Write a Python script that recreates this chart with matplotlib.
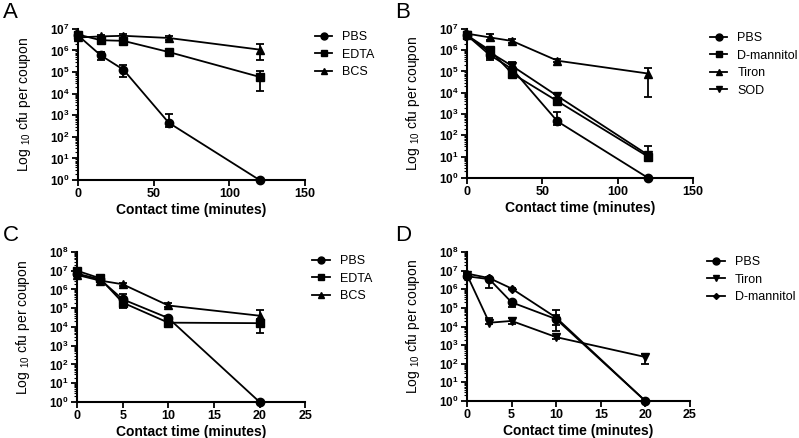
import numpy as np
import matplotlib
matplotlib.use("Agg")
import matplotlib.pyplot as plt
from matplotlib.lines import Line2D
from matplotlib.ticker import LogLocator, FixedLocator, NullFormatter

plt.rcParams['font.family'] = ['Liberation Sans', 'DejaVu Sans']
plt.rcParams['mathtext.fontset'] = 'custom'
plt.rcParams['mathtext.rm'] = 'Liberation Sans'
plt.rcParams['mathtext.it'] = 'Liberation Sans'
plt.rcParams['mathtext.bf'] = 'Liberation Sans:bold'

# Panel A
tA = [0, 15, 30, 60, 120]
A_pbs = [5e6, 6e5, 1.3e5, 450, 1]
A_pbs_lo = [3.5e6, 3.5e5, 6e4, 300, 1]
A_pbs_hi = [7e6, 8.5e5, 2.2e5, 1.2e3, 1]
A_edta = [5.5e6, 3e6, 2.8e6, 8.5e5, 6e4]
A_edta_lo = [4e6, 2.2e6, 2e6, 7e5, 1.4e4]
A_edta_hi = [7e6, 4e6, 3.8e6, 1e6, 1.1e5]
A_bcs = [4e6, 4.5e6, 4.8e6, 3.8e6, 1.1e6]
A_bcs_lo = [3e6, 3.5e6, 3.8e6, 3.2e6, 3.5e5]
A_bcs_hi = [5e6, 5.5e6, 5.8e6, 4.5e6, 1.9e6]

# Panel B
tB = [0, 15, 30, 60, 120]
B_pbs = [5e6, 6e5, 1.3e5, 450, 1]
B_pbs_lo = [3.5e6, 3.5e5, 6e4, 300, 1]
B_pbs_hi = [7e6, 8.5e5, 2.2e5, 1.2e3, 1]
B_mann = [5e6, 1e6, 8e4, 4e3, 10]
B_mann_lo = [4e6, 7e5, 6e4, 3e3, 7]
B_mann_hi = [6e6, 1.3e6, 1.1e5, 5e3, 14]
B_tiron = [6e6, 4e6, 2.7e6, 3.2e5, 8e4]
B_tiron_lo = [5e6, 3e6, 2.2e6, 2.7e5, 6.5e3]
B_tiron_hi = [7e6, 5.5e6, 3.2e6, 3.7e5, 1.5e5]
B_sod = [5e6, 8e5, 1.8e5, 7e3, 12]
B_sod_lo = [4e6, 4.5e5, 1.2e5, 5e3, 8]
B_sod_hi = [6e6, 1.2e6, 2.8e5, 9e3, 30]

# Panel C
tC = [0, 2.5, 5, 10, 20]
C_pbs = [7e6, 3.5e6, 3e5, 3e4, 1]
C_pbs_lo = [5e6, 2.8e6, 1.5e5, 2e4, 1]
C_pbs_hi = [9e6, 4.3e6, 6e5, 4e4, 1]
C_edta = [1e7, 4e6, 2e5, 1.7e4, 1.6e4]
C_edta_lo = [8e6, 3.2e6, 1e5, 1.3e4, 5e3]
C_edta_hi = [1.3e7, 5e6, 4e5, 2.2e4, 2.8e4]
C_bcs = [6e6, 3e6, 1.9e6, 1.4e5, 4e4]
C_bcs_lo = [5e6, 2.5e6, 1.6e6, 1.1e5, 2e4]
C_bcs_hi = [7e6, 3.5e6, 2.2e6, 1.8e5, 8e4]

# Panel D
tD = [0, 2.5, 5, 10, 20]
D_pbs = [5e6, 3.5e6, 2e5, 2.5e4, 1]
D_pbs_lo = [4e6, 1.2e6, 1.1e5, 6e3, 1]
D_pbs_hi = [6e6, 4.5e6, 2.8e5, 4e4, 1]
D_tiron = [6e6, 1.6e4, 2e4, 2.7e3, 2.3e2]
D_tiron_lo = [5e6, 1.3e4, 1.4e4, 2.2e3, 1e2]
D_tiron_hi = [7e6, 3e4, 3e4, 3.2e3, 3.5e2]
D_mann = [7e6, 4e6, 1.1e6, 3e4, 1]
D_mann_lo = [6e6, 3.5e6, 1e6, 1.2e4, 1]
D_mann_hi = [8e6, 4.5e6, 1.2e6, 7.5e4, 1]

panels = [
    dict(letter='A', lpos=(0.004, 0.995), pos=[0.0976, 0.589, 0.284, 0.345], t=tA, xlim=(0, 150),
         xticks=[0, 50, 100, 150], ytop=7,
         series=[('PBS', 'o', A_pbs, A_pbs_lo, A_pbs_hi), ('EDTA', 's', A_edta, A_edta_lo, A_edta_hi),
                 ('BCS', '^', A_bcs, A_bcs_lo, A_bcs_hi)], leg=(0.394, 0.929)),
    dict(letter='B', lpos=(0.494, 0.995), pos=[0.5845, 0.594, 0.283, 0.340], t=tB, xlim=(0, 150),
         xticks=[0, 50, 100, 150], ytop=7,
         series=[('PBS', 'o', B_pbs, B_pbs_lo, B_pbs_hi), ('D-mannitol', 's', B_mann, B_mann_lo, B_mann_hi),
                 ('Tiron', '^', B_tiron, B_tiron_lo, B_tiron_hi), ('SOD', 'v', B_sod, B_sod_lo, B_sod_hi)],
         leg=(0.8886, 0.927)),
    dict(letter='C', lpos=(0.004, 0.486), pos=[0.0964, 0.0822, 0.2856, 0.3425], t=tC, xlim=(0, 25),
         xticks=[0, 5, 10, 15, 20, 25], ytop=8,
         series=[('PBS', 'o', C_pbs, C_pbs_lo, C_pbs_hi), ('EDTA', 's', C_edta, C_edta_lo, C_edta_hi),
                 ('BCS', '^', C_bcs, C_bcs_lo, C_bcs_hi)], leg=(0.3905, 0.418)),
    dict(letter='D', lpos=(0.494, 0.486), pos=[0.5845, 0.0845, 0.279, 0.340], t=tD, xlim=(0, 25),
         xticks=[0, 5, 10, 15, 20, 25], ytop=8,
         series=[('PBS', 'o', D_pbs, D_pbs_lo, D_pbs_hi), ('Tiron', 'v', D_tiron, D_tiron_lo, D_tiron_hi),
                 ('D-mannitol', 'D', D_mann, D_mann_lo, D_mann_hi)], leg=(0.885, 0.4155)),
]

fig = plt.figure(figsize=(7.99, 4.38), dpi=100)

for p in panels:
    ax = fig.add_axes(p['pos'])
    handles = []
    for name, mk, y, lo, hi in p['series']:
        y = np.array(y); lo = np.array(lo); hi = np.array(hi)
        ms = 6 if mk != 'D' else 4
        ax.errorbar(p['t'], y, yerr=[y - lo, hi - y], color='black', marker=mk, ms=ms,
                    lw=1.3, elinewidth=1.3, capsize=3, capthick=1.3, clip_on=False, zorder=3)
        handles.append(Line2D([], [], color='black', marker=mk, ms=ms - 1, lw=1.3, label=name))
    ax.set_yscale('log')
    ax.set_ylim(1, 10 ** p['ytop'])
    ax.set_xlim(*p['xlim'])
    ax.set_xticks(p['xticks'])
    ax.set_xticklabels([str(v) for v in p['xticks']], fontsize=9, fontweight='bold')
    decs = list(range(0, p['ytop'] + 1))
    ax.yaxis.set_major_locator(FixedLocator([10.0 ** d for d in decs]))
    ax.set_yticklabels([r'$\mathbf{10^{%d}}$' % d for d in decs], fontsize=8.5)
    ax.yaxis.set_minor_locator(LogLocator(base=10, subs=np.arange(2, 10), numticks=20))
    ax.yaxis.set_minor_formatter(NullFormatter())
    for s in ['top', 'right']:
        ax.spines[s].set_visible(False)
    for s in ['left', 'bottom']:
        ax.spines[s].set_linewidth(1.5)
    ax.tick_params(axis='both', which='major', direction='out', length=4, width=1.3, pad=2)
    ax.tick_params(axis='y', which='minor', direction='out', length=2, width=0.8)
    ax.set_xlabel('Contact time (minutes)', fontsize=10, fontweight='bold', labelpad=2)
    ax.set_ylabel(r'Log $_{10}$ cfu per coupon', fontsize=10, labelpad=12)
    fig.text(p['lpos'][0], p['lpos'][1], p['letter'], fontsize=16, va='top', ha='left')
    ax.legend(handles=handles, loc='upper left', bbox_to_anchor=p['leg'], bbox_transform=fig.transFigure,
              frameon=False, fontsize=9, handlelength=1.4, handletextpad=0.8, labelspacing=0.45,
              borderaxespad=0, borderpad=0)

fig.savefig('out.png', dpi=100)
